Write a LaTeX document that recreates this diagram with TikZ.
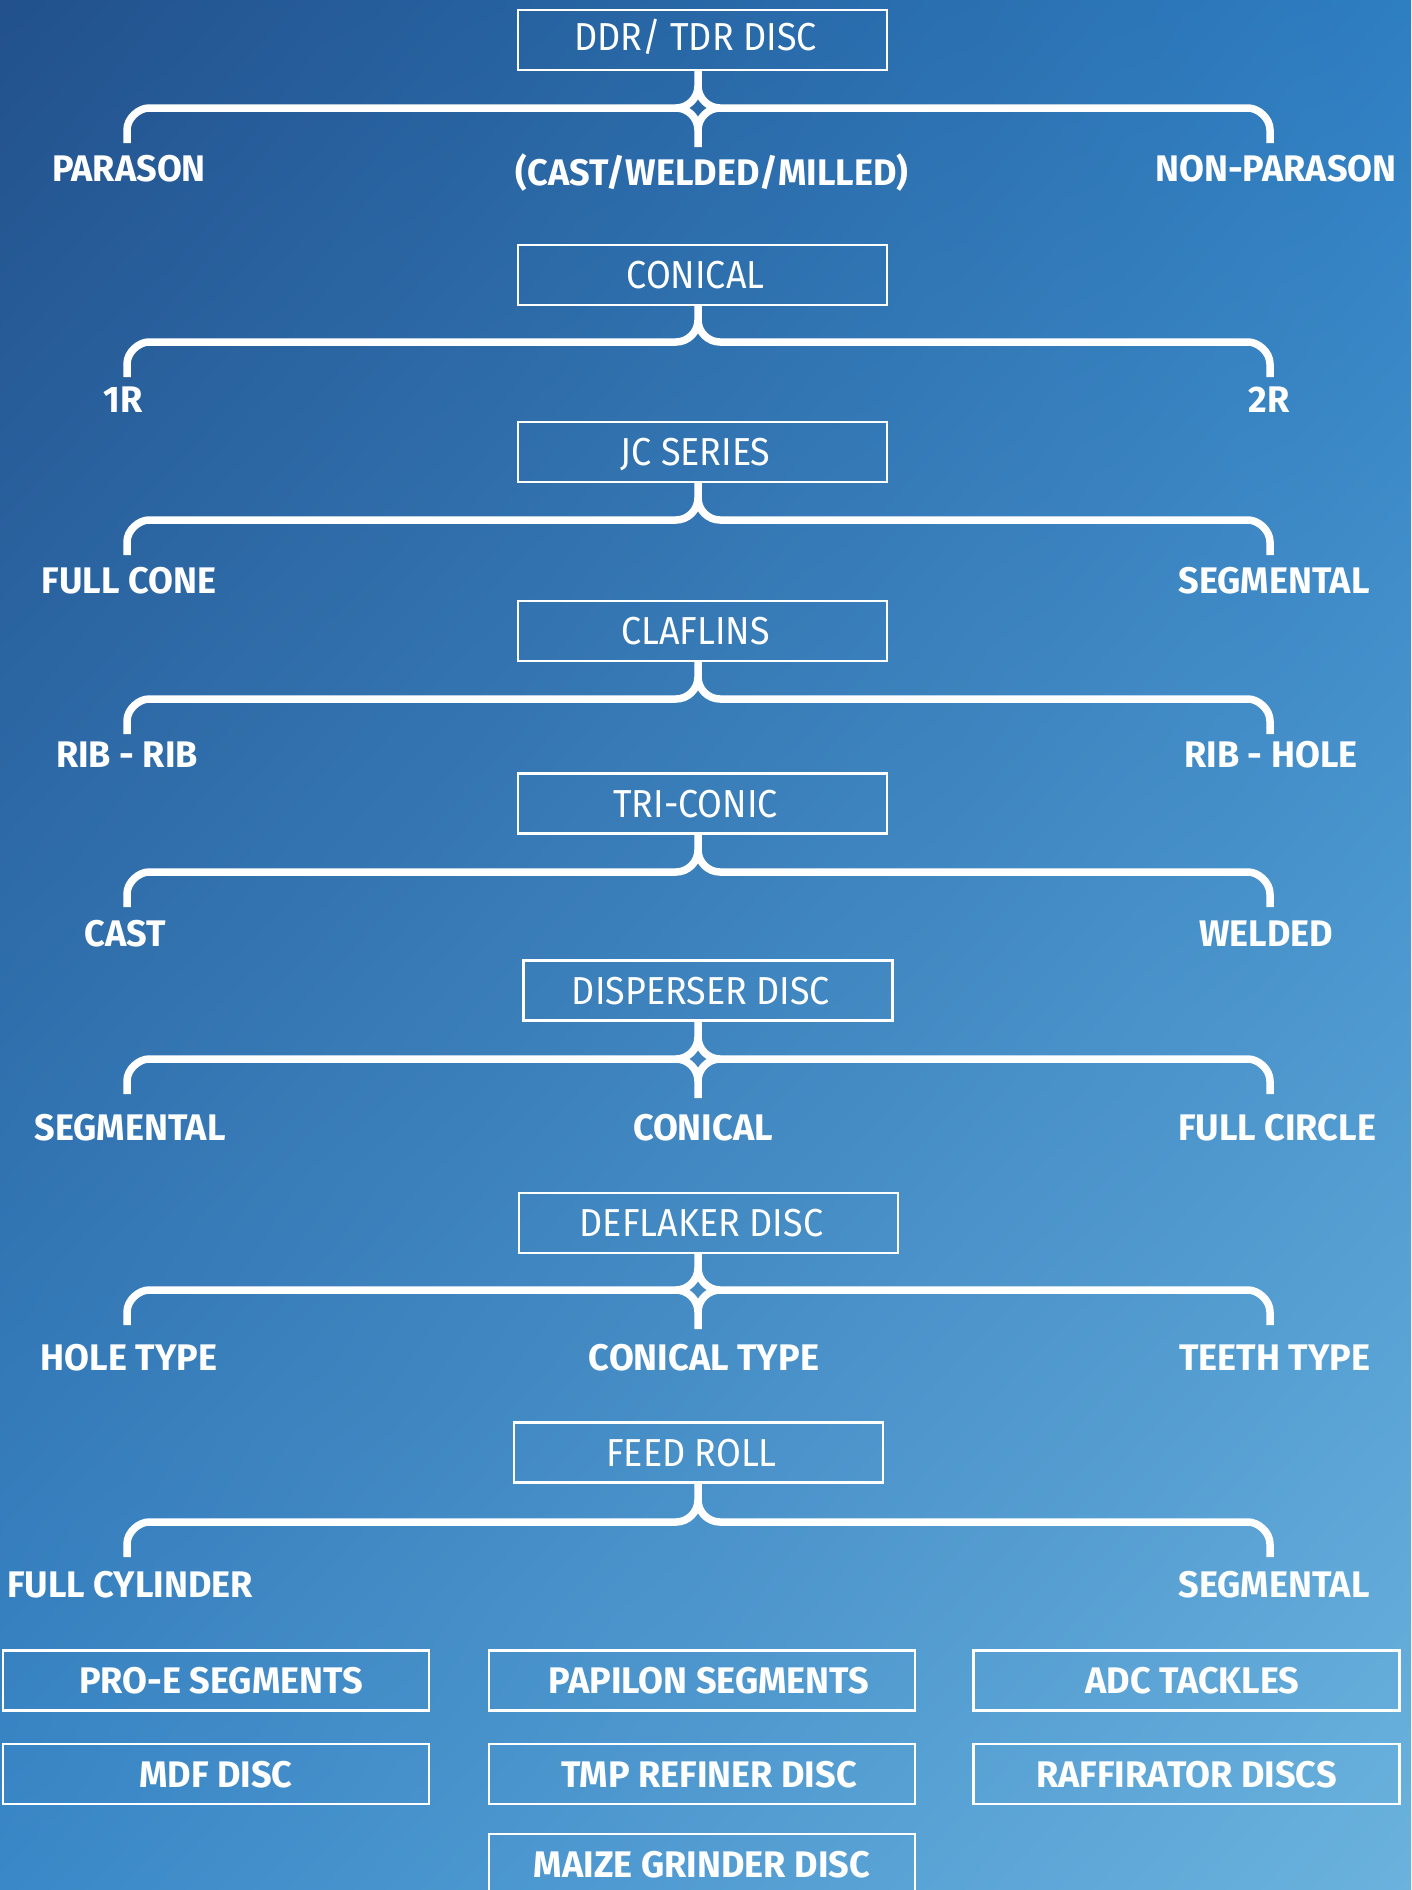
\documentclass[tikz,border=0pt]{standalone}
\usepackage{fontspec}
\setmainfont{Fira Sans}[FakeStretch=0.92]
\newfontfamily\labfont{Fira Sans}[FakeStretch=0.975]
\usetikzlibrary{shadings}
\definecolor{cTL}{HTML}{22518C}
\definecolor{cTR}{HTML}{2E7EC2}
\definecolor{cBL}{HTML}{3A88C8}
\definecolor{cBR}{HTML}{6BB2DD}
\tikzset{
  topbox/.style={draw=white, line width=2.2pt, minimum width=369pt, minimum height=60pt, inner sep=0pt, text=white,
     font=\fontsize{39}{39}\selectfont, text height=27pt, text depth=0pt},
  botbox/.style={draw=white, line width=2.2pt, minimum width=426pt, minimum height=60pt, inner sep=0pt, text=white,
     font=\labfont\bfseries\fontsize{37}{37}\selectfont, text height=26pt, text depth=0pt},
  lab/.style={text=white, inner sep=0pt, font=\labfont\bfseries\fontsize{37}{37}\selectfont, text height=26pt, text depth=0pt},
  brace/.style={draw=white, line width=7.5pt, line cap=butt, line join=round},
}
\newcommand\sh{\hspace*{14pt}}
% #1 line y, #2 box name
\newcommand\bracetwo[2]{%
  \coordinate (jn#2) at (698,#1);
  \draw[brace] (127,#1+35) -- (127,#1+22) .. controls (127,#1+10) and (139,#1) .. (149,#1) -- (676,#1)
     .. controls (688,#1) and (698,#1-10) .. (698,#1-22) -- (jn#2 |- #2.south);
  \draw[brace] (1270,#1+35) -- (1270,#1+22) .. controls (1270,#1+10) and (1258,#1) .. (1248,#1) -- (720,#1)
     .. controls (708,#1) and (698,#1-10) .. (698,#1-22);
}
\newcommand\bracethree[2]{%
  \bracetwo{#1}{#2}%
  \draw[brace] (676,#1) .. controls (688,#1) and (698,#1+10) .. (698,#1+22) -- (698,#1+39);
  \draw[brace] (720,#1) .. controls (708,#1) and (698,#1+10) .. (698,#1+22);
}
\begin{document}
\begin{tikzpicture}[x=1pt, y=-1pt]
\shade[upper left=cTL, upper right=cTR, lower left=cBL, lower right=cBR] (0,0) rectangle (1411,1890);
\useasboundingbox (0,0) rectangle (1411,1890);

% section 1
\node[topbox, text depth=7pt] (b1) at (702.5,40) {DDR/ TDR DISC\sh};
\bracethree{108}{b1}
\node[lab] (l1a) at (129,168) {PARASON};
\node[lab] (l1b) at (712,172) {(CAST/WELDED/MILLED)};
\node[lab] (l1c) at (1276,168) {NON-PARASON};

% section 2
\node[topbox] (b2) at (702.5,275) {CONICAL\sh};
\bracetwo{342}{b2}
\node[lab] (l2a) at (123,399) {1R};
\node[lab] (l2b) at (1269,399) {2R};

% section 3
\node[topbox] (b3) at (702.5,452) {JC SERIES\sh};
\bracetwo{520}{b3}
\node[lab] (l3a) at (129,580) {FULL CONE};
\node[lab] (l3b) at (1274,580) {SEGMENTAL};

% section 4
\node[topbox] (b4) at (702.5,631) {CLAFLINS\sh};
\bracetwo{699}{b4}
\node[lab] (l4a) at (127,754) {RIB - RIB};
\node[lab] (l4b) at (1271,754) {RIB - HOLE};

% section 5
\node[topbox] (b5) at (702.5,803.5) {TRI-CONIC\sh};
\bracetwo{872}{b5}
\node[lab] (l5a) at (125,933) {CAST};
\node[lab] (l5b) at (1266,933) {WELDED};

% section 6
\node[topbox] (b6) at (708,990.5) {DISPERSER DISC\sh};
\bracethree{1059}{b6}
\node[lab] (l6a) at (130,1127) {SEGMENTAL};
\node[lab] (l6b) at (703,1127) {CONICAL};
\node[lab] (l6c) at (1277,1127) {FULL CIRCLE};

% section 7
\node[topbox, minimum width=379pt] (b7) at (708.5,1223) {DEFLAKER DISC\sh};
\bracethree{1290}{b7}
\node[lab] (l7a) at (129,1357) {HOLE TYPE};
\node[lab] (l7b) at (704,1357) {CONICAL TYPE};
\node[lab] (l7c) at (1275,1357) {TEETH TYPE};

% section 8
\node[topbox] (b8) at (698.5,1452.5) {FEED ROLL\sh};
\bracetwo{1522}{b8}
\node[lab] (l8a) at (130,1584) {FULL CYLINDER};
\node[lab] (l8b) at (1274,1584) {SEGMENTAL};

% bottom boxes
\node[botbox] (p1) at (216,1680.5) {\hspace*{10pt}PRO-E SEGMENTS};
\node[botbox] (p2) at (702,1680.5) {\hspace*{14pt}PAPILON SEGMENTS};
\node[botbox] (p3) at (1186.5,1680.5) {\hspace*{12pt}ADC TACKLES};
\node[botbox] (p4) at (216,1774) {MDF DISC};
\node[botbox] (p5) at (702,1774) {\hspace*{14pt}TMP REFINER DISC};
\node[botbox] (p6) at (1186.5,1774) {RAFFIRATOR DISCS};
\node[botbox] (p7) at (702,1864) {MAIZE GRINDER DISC};
\end{tikzpicture}
\end{document}
